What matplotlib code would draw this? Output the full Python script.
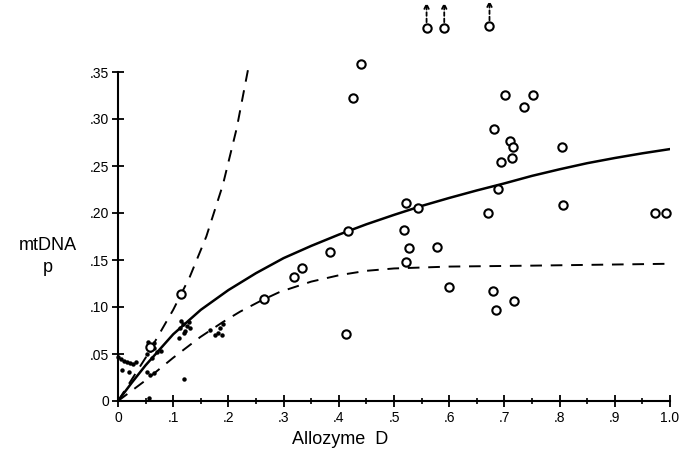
import matplotlib
matplotlib.use("Agg")
import matplotlib.pyplot as plt
from matplotlib.ticker import MultipleLocator, FixedLocator

# ---- data ----
open_x = [0.058, 0.114, 0.265, 0.319, 0.333, 0.3835, 0.417, 0.4125, 0.426, 0.440,
          0.518, 0.522, 0.527, 0.521, 0.543, 0.577, 0.600,
          0.670, 0.679, 0.681, 0.684, 0.688, 0.693, 0.701, 0.710, 0.714, 0.716,
          0.717, 0.736, 0.752, 0.805, 0.806, 0.973, 0.993]
open_y = [0.057, 0.114, 0.109, 0.132, 0.142, 0.159, 0.181, 0.071, 0.322, 0.358,
          0.182, 0.211, 0.163, 0.148, 0.2055, 0.164, 0.121,
          0.1995, 0.1175, 0.289, 0.097, 0.226, 0.254, 0.326, 0.277, 0.258, 0.270,
          0.1065, 0.313, 0.326, 0.270, 0.209, 0.1995, 0.2005]

offscale_x = [0.559, 0.591, 0.673]
offscale_y = [0.397, 0.397, 0.399]

dot_x = [0.000, 0.005, 0.010, 0.016, 0.022, 0.028, 0.033, 0.007, 0.020,
         0.055, 0.060, 0.065, 0.058, 0.066, 0.070, 0.052, 0.078, 0.062,
         0.052, 0.058, 0.065, 0.057, 0.120,
         0.110, 0.112, 0.118, 0.122, 0.125, 0.128, 0.115, 0.130, 0.120,
         0.167, 0.176, 0.181, 0.185, 0.190, 0.188]
dot_y = [0.047, 0.045, 0.043, 0.041, 0.040, 0.039, 0.042, 0.033, 0.031,
         0.063, 0.060, 0.062, 0.054, 0.056, 0.052, 0.050, 0.053, 0.046,
         0.031, 0.028, 0.030, 0.003, 0.023,
         0.067, 0.078, 0.082, 0.075, 0.080, 0.084, 0.085, 0.078, 0.072,
         0.076, 0.070, 0.072, 0.078, 0.082, 0.070]

solid_x = [0.0, 0.025, 0.05, 0.10, 0.15, 0.20, 0.25, 0.30, 0.35, 0.40, 0.45,
           0.50, 0.55, 0.60, 0.65, 0.70, 0.75, 0.80, 0.85, 0.90, 0.95, 1.0]
solid_y = [0.0, 0.0195, 0.038, 0.071, 0.097, 0.118, 0.136, 0.152, 0.165, 0.177, 0.188,
           0.198, 0.2075, 0.216, 0.224, 0.2315, 0.2395, 0.2465, 0.253, 0.2585, 0.2635, 0.268]

upper_x = [0.0, 0.05, 0.10, 0.13, 0.16, 0.19, 0.215, 0.238]
upper_y = [0.0, 0.046, 0.097, 0.132, 0.175, 0.230, 0.290, 0.360]

lower_x = [0.0, 0.05, 0.10, 0.149, 0.19, 0.221, 0.26, 0.293, 0.35, 0.402, 0.45,
           0.5, 0.6, 0.75, 1.0]
lower_y = [0.0, 0.022, 0.046, 0.068, 0.084, 0.095, 0.107, 0.116, 0.127, 0.134, 0.1385,
           0.1410, 0.143, 0.144, 0.146]

x_ticks = [0, 0.1, 0.2, 0.3, 0.4, 0.5, 0.6, 0.7, 0.8, 0.9, 1.0]
x_labels = ["0", ".1", ".2", ".3", ".4", ".5", ".6", ".7", ".8", ".9", "1.0"]
y_ticks = [0, 0.05, 0.10, 0.15, 0.20, 0.25, 0.30, 0.35]
y_labels = ["0", ".05", ".10", ".15", ".20", ".25", ".30", ".35"]

plt.rcParams['font.family'] = ['Liberation Sans', 'DejaVu Sans']

fig = plt.figure(figsize=(6.82, 4.55), dpi=100)
ax = fig.add_axes([118/682, 54/455, 552/682, 329/455])

ax.plot(solid_x, solid_y, color='black', lw=1.8, solid_capstyle='round',
        solid_joinstyle='round')
ax.plot(upper_x, upper_y, color='black', lw=1.4, dashes=(6, 4.5), clip_on=False)
ax.plot(lower_x, lower_y, color='black', lw=1.4, dashes=(6, 4.5))

ax.plot(dot_x, dot_y, 'o', color='black', ms=3.2, mew=0, clip_on=False)
ax.plot(open_x, open_y, 'o', mfc='white', mec='black', ms=6.0, mew=1.5, clip_on=False)
ax.plot(offscale_x, offscale_y, 'o', mfc='white', mec='black', ms=6.0, mew=1.5, clip_on=False)
for xv, yv in zip(offscale_x, offscale_y):
    ax.annotate('', xy=(xv, yv + 0.027), xytext=(xv, yv + 0.006),
                arrowprops=dict(arrowstyle='->', lw=1.3, linestyle=(0, (2, 1.5)),
                                mutation_scale=8, shrinkA=0, shrinkB=0),
                annotation_clip=False)

ax.set_xlim(0, 1.0)
ax.set_ylim(0, 0.35)
for s in ['top', 'right']:
    ax.spines[s].set_visible(False)
for s in ['left', 'bottom']:
    ax.spines[s].set_linewidth(1.5)

ax.xaxis.set_major_locator(FixedLocator(x_ticks))
ax.set_xticklabels(x_labels)
ax.xaxis.set_minor_locator(MultipleLocator(0.05))
ax.yaxis.set_major_locator(FixedLocator(y_ticks))
ax.set_yticklabels(y_labels)
ax.tick_params(axis='both', which='major', direction='inout', length=9, width=1.3,
               labelsize=10, pad=3)
ax.tick_params(axis='x', which='minor', direction='inout', length=5, width=1.2)
ax.tick_params(axis='y', which='major', pad=2)

fig.text(340/682, 1 - 439/455, "Allozyme  D", ha='center', va='center', fontsize=13)
fig.text(48/682, 1 - 245/455, "mtDNA", ha='center', va='center', fontsize=13)
fig.text(48/682, 1 - 268/455, "p", ha='center', va='center', fontsize=13)

fig.savefig("out.png", dpi=100, facecolor='white')
